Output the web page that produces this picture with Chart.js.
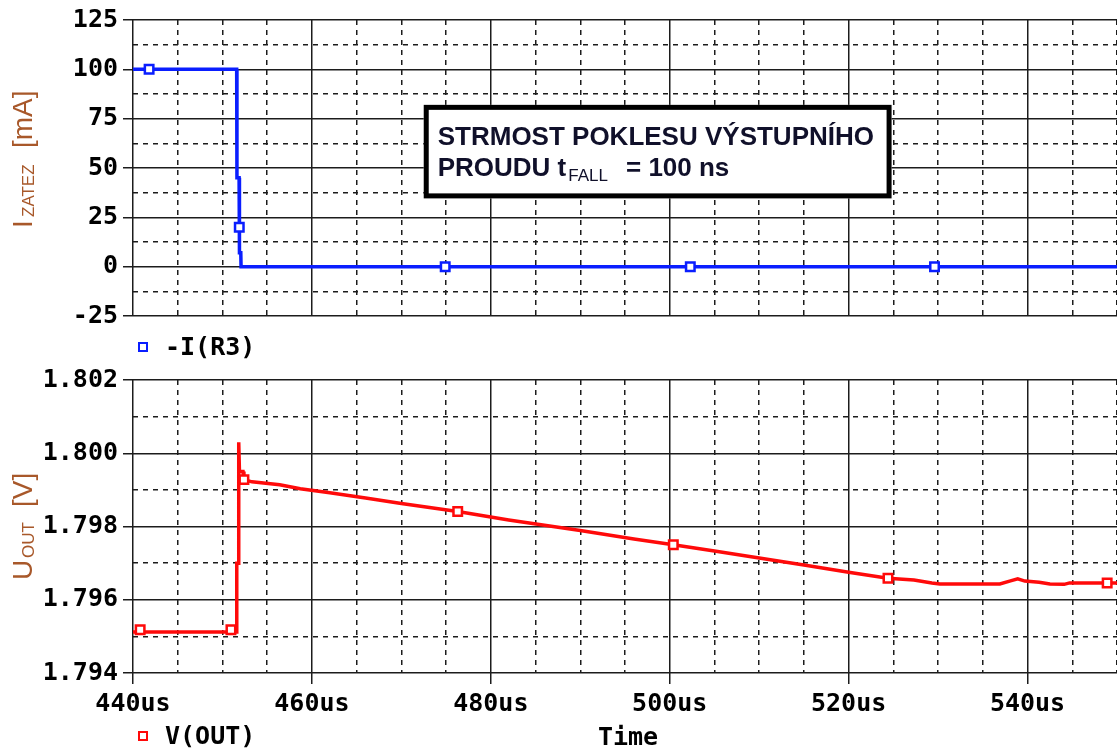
<!DOCTYPE html>
<html>
<head>
<meta charset="utf-8">
<script src="https://cdn.jsdelivr.net/npm/chart.js@4.4.1/dist/chart.umd.min.js"></script>
<style>
  html, body { margin: 0; padding: 0; background: #fff; }
  #wrap { position: relative; width: 1117px; height: 749px; overflow: hidden; }
  canvas { position: absolute; left: 0; }
  #chartI { top: 0; }
  #chartV { top: 360px; }
</style>
</head>
<body>
<div id="wrap">
  <canvas id="chartI" width="1117" height="360"></canvas>
  <canvas id="chartV" width="1117" height="389"></canvas>
</div>
<script>
// load current -I(R3) [mA] vs time [us]
const timeI = [440, 451.59, 451.62, 451.86, 451.9, 452.05, 452.08, 550];
const iR3 = [100, 100, 45, 45, 7, 7, 0, 0];
const timeIMarks = [441.8, 451.88, 474.9, 502.3, 529.6];
const iR3Marks = [100, 20, 0, 0, 0];

// output voltage V(OUT) [V] vs time [us]
const timeV = [440, 451.55, 451.6, 451.8, 451.82, 451.9, 452.3, 452.4, 453.3, 456.4, 458.7, 462, 466, 470, 476.3,
  482, 490, 496, 500.4, 505, 510, 515, 520, 524.4, 527.3, 529.3, 530.2, 536.9, 538.0, 538.9, 539.7, 541.3,
  542.5, 544.1, 544.7, 550];
const vOut = [1.79512, 1.79512, 1.7970, 1.7970, 1.8003, 1.79950, 1.79950, 1.79928, 1.79922, 1.79914, 1.79903,
  1.79892, 1.79878, 1.79863, 1.79841, 1.79818, 1.79789, 1.79766, 1.79750, 1.79733, 1.79714, 1.79695, 1.79675,
  1.79659, 1.79654, 1.79646, 1.79643, 1.79643, 1.79651, 1.79657, 1.79651, 1.79648, 1.79643, 1.79642, 1.79646,
  1.79646];
const timeVMarks = [440.8, 450.95, 452.4, 476.3, 500.4, 524.4, 548.9];
const vOutMarks = [1.79518, 1.79518, 1.79928, 1.79841, 1.79750, 1.79659, 1.79646];

// labelled ticks
const timeTicks = [440, 460, 480, 500, 520, 540];
const iTicks = [-25, 0, 25, 50, 75, 100, 125];
const vTicks = [1.794, 1.796, 1.798, 1.800, 1.802];

const BLUE = '#0a1eff';
const RED = '#ff0a0a';
const GRID = '#1c1c1c';
const TITLE_COLOR = '#a8582a';
const MONO = 'bold 25px "DejaVu Sans Mono"';
const TICK_FONT = { family: 'DejaVu Sans Mono', size: 25, weight: 'bold' };

const near = (v, list, eps) => list.some(t => Math.abs(t - v) < eps);
const majorT = v => near(v, timeTicks, 1e-6);
const majorI = v => near(v, iTicks, 1e-6);
const majorV = v => near(v, vTicks, 1e-7);

function toPoints(xs, ys) {
  return xs.map((x, i) => ({ x: x, y: ys[i] }));
}

function timeAxis(withLabels) {
  return {
    type: 'linear', min: 440, max: 550,
    afterFit: s => {
      s.height = withLabels ? 76 : 0;
      // plot runs right up to the canvas edge
      s.paddingLeft = 0;
      s.paddingRight = 0;
    },
    ticks: {
      display: withLabels, stepSize: 5, autoSkip: false, maxRotation: 0, minRotation: 0,
      padding: 5, color: '#000', font: TICK_FONT,
      callback: v => majorT(v) ? v + 'us' : ''
    },
    grid: {
      color: GRID, lineWidth: 1.5, drawTicks: withLabels, tickLength: 11, tickWidth: 1.5,
      tickColor: c => (c.tick && majorT(c.tick.value)) ? GRID : 'rgba(0,0,0,0)'
    },
    border: { display: false, dash: c => (c.tick && majorT(c.tick.value)) ? [] : [5, 5] }
  };
}

function valueAxis(min, max, step, isMajor, fmt) {
  return {
    type: 'linear', min: min, max: max,
    afterFit: s => { s.width = 133; },
    ticks: {
      stepSize: step, autoSkip: false, padding: 5, color: '#000', font: TICK_FONT,
      callback: v => isMajor(v) ? fmt(v) : ''
    },
    grid: {
      color: GRID, lineWidth: 1.5, tickLength: 10, tickWidth: 1.5,
      tickColor: c => (c.tick && isMajor(c.tick.value)) ? GRID : 'rgba(0,0,0,0)'
    },
    border: { display: false, dash: c => (c.tick && isMajor(c.tick.value)) ? [] : [5, 5] }
  };
}

// rotated axis title with a subscript, read bottom to top
function sideTitle(ctx, baseX, startY, main, sub, tail, subAt, tailAt) {
  ctx.save();
  ctx.translate(baseX, startY);
  ctx.rotate(-Math.PI / 2);
  ctx.fillStyle = TITLE_COLOR;
  ctx.textAlign = 'left';
  ctx.textBaseline = 'alphabetic';
  ctx.font = '28px "Liberation Sans"';
  ctx.fillText(main, 0, 0);
  ctx.fillText(tail, tailAt, 0);
  ctx.font = '17px "Liberation Sans"';
  ctx.fillText(sub, subAt, 2);
  ctx.restore();
}

function legendEntry(ctx, x, y, color, text) {
  ctx.save();
  ctx.strokeStyle = color;
  ctx.lineWidth = 2;
  ctx.strokeRect(x - 4, y - 4, 8, 8);
  ctx.fillStyle = '#000';
  ctx.font = MONO;
  ctx.textAlign = 'left';
  ctx.textBaseline = 'middle';
  ctx.fillText(text, x + 22, y + 1);
  ctx.restore();
}

const seriesLine = (data, color) => ({
  type: 'line', data: data, borderColor: color, borderWidth: 3.5,
  pointRadius: 0, tension: 0, fill: false
});
const seriesMarks = (data, color) => ({
  type: 'scatter', data: data, showLine: false, pointStyle: 'rect', pointRadius: 6,
  pointBorderWidth: 2.5, borderColor: color, backgroundColor: '#fff',
  pointBackgroundColor: '#fff', pointBorderColor: color
});

const baseOptions = {
  responsive: false, animation: false, events: [],
  plugins: { legend: { display: false }, tooltip: { enabled: false } }
};

new Chart(document.getElementById('chartI'), {
  type: 'line',
  data: {
    datasets: [
      seriesMarks(toPoints(timeIMarks, iR3Marks), BLUE),
      seriesLine(toPoints(timeI, iR3), BLUE)
    ]
  },
  options: Object.assign({}, baseOptions, {
    layout: { autoPadding: false, padding: { top: 20, right: 0, bottom: 44, left: 0 } },
    scales: {
      x: timeAxis(false),
      y: valueAxis(-25, 125, 12.5, majorI, v => String(v))
    }
  }),
  plugins: [{
    id: 'extrasI',
    afterDatasetsDraw(chart) {
      const ctx = chart.ctx;
      const x = chart.scales.x, y = chart.scales.y;
      // note box
      const l = x.getPixelForValue(472.5), r = x.getPixelForValue(524.8);
      const t = y.getPixelForValue(82), b = y.getPixelForValue(34.6);
      ctx.save();
      ctx.fillStyle = '#fff';
      ctx.fillRect(l, t, r - l, b - t);
      ctx.lineWidth = 5;
      ctx.strokeStyle = '#000';
      ctx.strokeRect(l + 2.5, t + 2.5, r - l - 5, b - t - 5);
      ctx.fillStyle = '#10102a';
      ctx.textAlign = 'left';
      ctx.textBaseline = 'alphabetic';
      ctx.font = 'bold 26px "Liberation Sans"';
      ctx.fillText('STRMOST POKLESU VÝSTUPNÍHO', l + 14, t + 40);
      let px = l + 14;
      ctx.fillText('PROUDU t', px, t + 71);
      px += ctx.measureText('PROUDU t').width + 2;
      ctx.font = '17px "Liberation Sans"';
      ctx.fillText('FALL', px, t + 76);
      px += ctx.measureText('FALL').width + 18;
      ctx.font = 'bold 26px "Liberation Sans"';
      ctx.fillText('= 100 ns', px, t + 71);
      ctx.restore();

      sideTitle(ctx, 32, 228, 'I', 'ZATEZ', '[mA]', 11, 80);
      legendEntry(ctx, chart.chartArea.left + 10, 347, BLUE, '-I(R3)');
    }
  }]
});

new Chart(document.getElementById('chartV'), {
  type: 'line',
  data: {
    datasets: [
      seriesMarks(toPoints(timeVMarks, vOutMarks), RED),
      seriesLine(toPoints(timeV, vOut), RED)
    ]
  },
  options: Object.assign({}, baseOptions, {
    layout: { autoPadding: false, padding: { top: 16, right: 0, bottom: 0, left: 0 } },
    scales: {
      x: timeAxis(true),
      y: valueAxis(1.794, 1.802, 0.001, majorV, v => v.toFixed(3))
    }
  }),
  plugins: [{
    id: 'extrasV',
    afterDraw(chart) {
      const ctx = chart.ctx;
      sideTitle(ctx, 32, 220, 'U', 'OUT', '[V]', 22, 73);
      legendEntry(ctx, chart.chartArea.left + 10, 376, RED, 'V(OUT)');
      ctx.save();
      ctx.fillStyle = '#000';
      ctx.font = MONO;
      ctx.textAlign = 'center';
      ctx.textBaseline = 'middle';
      ctx.fillText('Time', 628, 378);
      ctx.restore();
    }
  }]
});
</script>
</body>
</html>
